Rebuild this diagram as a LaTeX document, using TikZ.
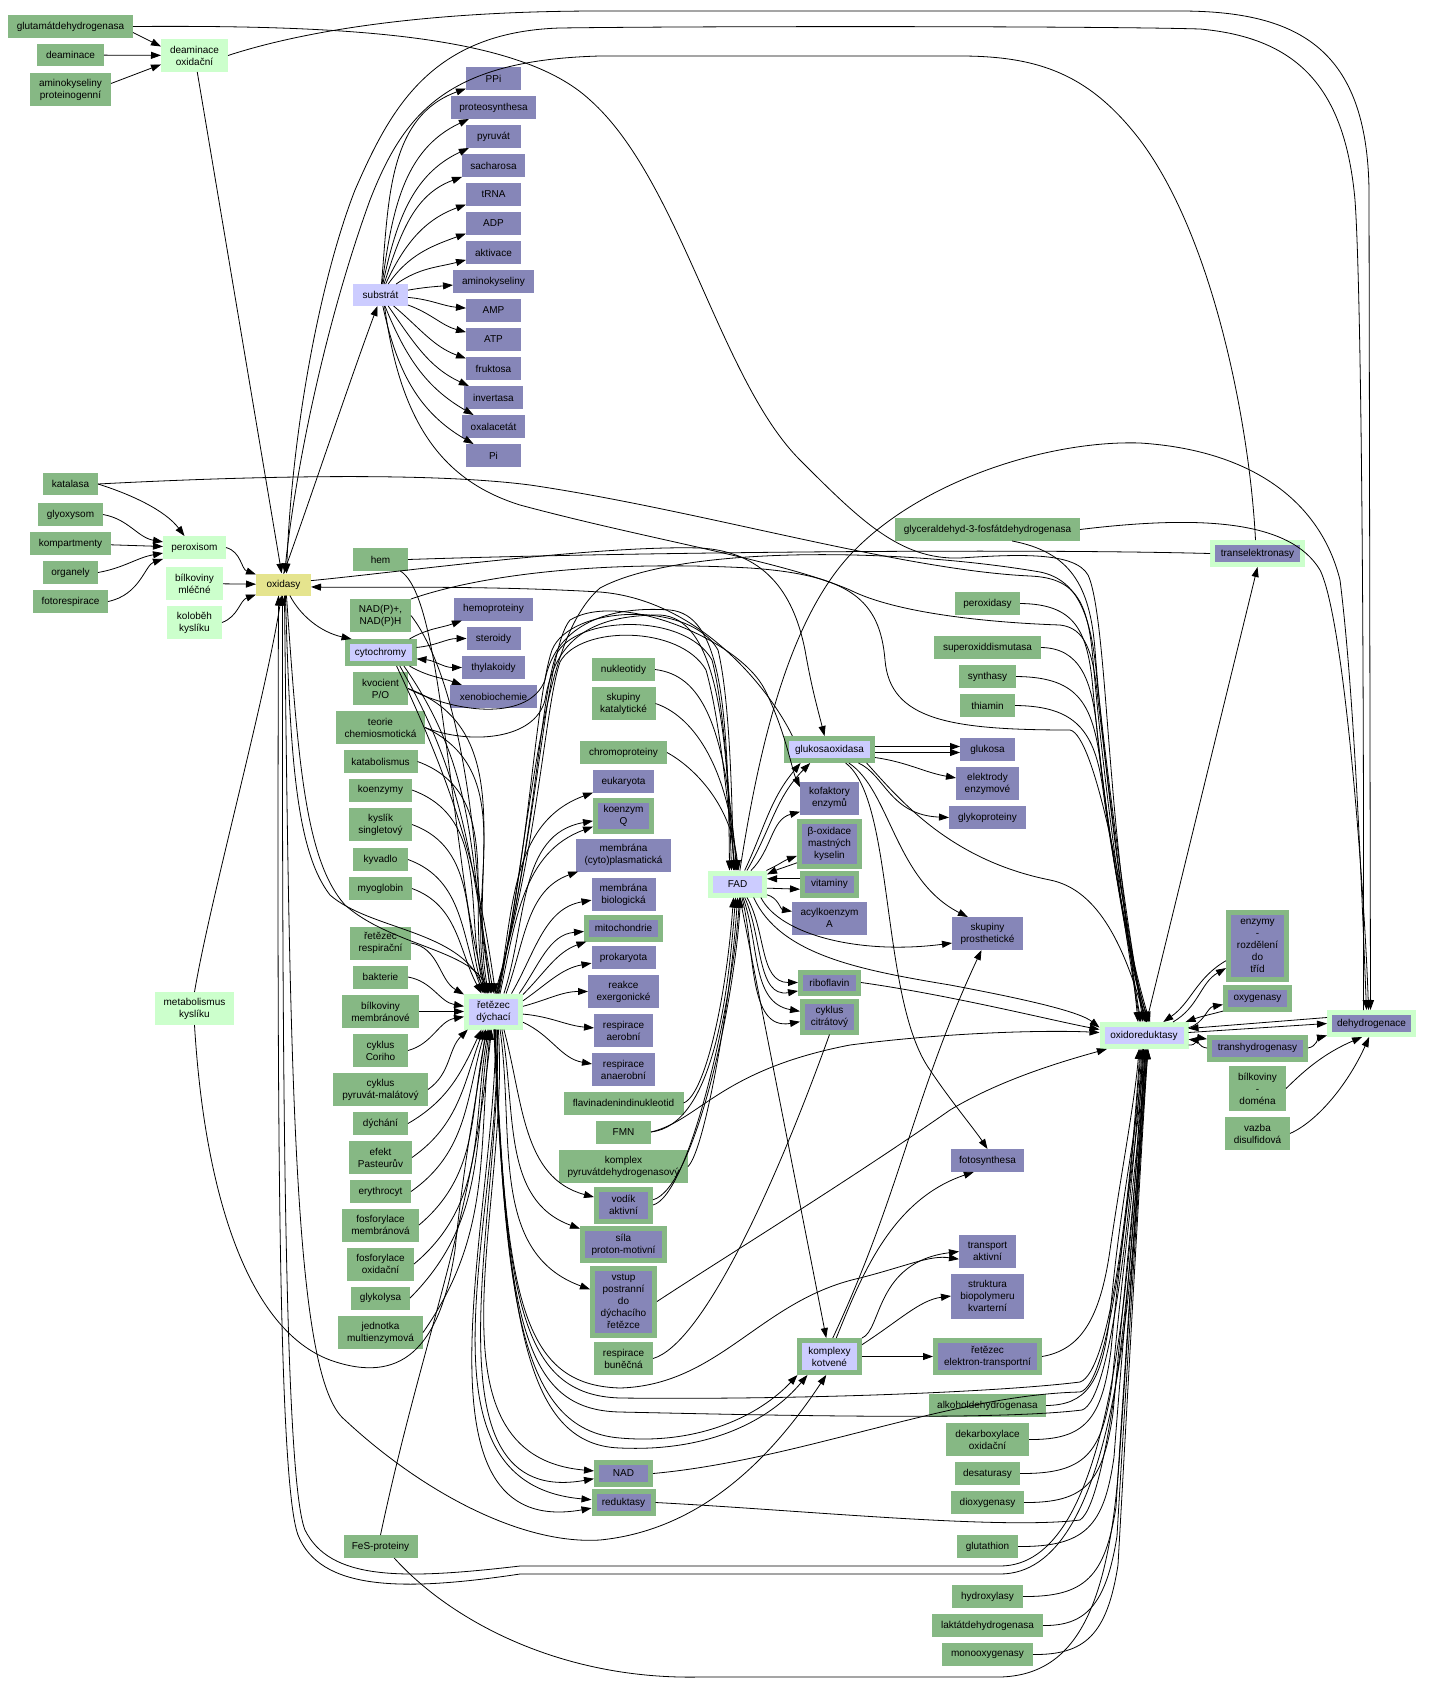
\documentclass[tikz,border=0pt]{standalone}
\usepackage{fontspec}
\setmainfont{Liberation Sans}
\usetikzlibrary{arrows.meta,calc}
\definecolor{cgreen}{RGB}{134,184,132}
\definecolor{cpurple}{RGB}{134,134,184}
\definecolor{clgreen}{RGB}{204,255,204}
\definecolor{clav}{RGB}{204,204,255}
\definecolor{cyel}{RGB}{229,228,142}
\newcommand\nd[6]{\node[#2,minimum width=#4pt,minimum height=#5pt] (#1) at (#3) {#6};}
\tikzset{
 box/.style={rectangle,inner sep=0pt,outer sep=0pt,align=center,font=\fontsize{10pt}{12pt}\selectfont},
 G/.style={box,fill=cgreen},
 P/.style={box,fill=cpurple},
 LG/.style={box,fill=clgreen},
 LV/.style={box,fill=clav},
 YE/.style={box,fill=cyel},
 PG/.style={box,fill=cpurple,draw=cgreen,line width=5pt,outer sep=2.5pt},
 PL/.style={box,fill=cpurple,draw=clgreen,line width=5pt,outer sep=2.5pt},
 VG/.style={box,fill=clav,draw=cgreen,line width=5pt,outer sep=2.5pt},
 VL/.style={box,fill=clav,draw=clgreen,line width=5pt,outer sep=2.5pt},
 ar/.style={draw,line width=0.8pt,-{Triangle[length=10pt,width=7pt]}},
 bi/.style={draw,line width=0.8pt,{Triangle[length=10pt,width=7pt]}-{Triangle[length=10pt,width=7pt]}},
 ln/.style={draw,line width=0.8pt},
}
\begin{document}
\begin{tikzpicture}[x=1pt,y=-1pt]
\useasboundingbox[fill=white] (0,0) rectangle (1455,1692);
% ---------- nodes: column 1-3
\nd{glut}{G}{70.5,26.5}{125}{23}{glutamátdehydrogenasa}
\nd{deam}{G}{70.5,55}{67}{22}{deaminace}
\nd{amprot}{G}{70.5,89.5}{81}{33}{aminokyseliny\\proteinogenní}
\nd{deamox}{LG}{194.5,55.5}{67}{33}{deaminace\\oxidační}
\nd{kat}{G}{70.5,484}{55}{22}{katalasa}
\nd{glyox}{G}{70.5,514.5}{65}{23}{glyoxysom}
\nd{komp}{G}{70.5,543.5}{81}{23}{kompartmenty}
\nd{org}{G}{70.5,572.5}{55}{23}{organely}
\nd{fotor}{G}{70.5,601.5}{75}{23}{fotorespirace}
\nd{perox}{LG}{194.5,547.5}{63}{23}{peroxisom}
\nd{bmlec}{LG}{194.5,583.5}{57}{33}{bílkoviny\\mléčné}
\nd{kolob}{LG}{194.5,622.5}{55}{33}{koloběh\\kyslíku}
\nd{metab}{LG}{194.5,1008.5}{79}{33}{metabolismus\\kyslíku}
\nd{oxid}{YE}{283.5,584.5}{55}{22}{oxidasy}
% ---------- column 4
\nd{subs}{LV}{380.5,295}{55}{22}{substrát}
\nd{hem}{G}{380.5,559.5}{55}{23}{hem}
\nd{nadp}{G}{380.5,615.5}{61}{33}{NAD(P)+,\\NAD(P)H}
\nd{cyt}{VG}{380.5,652.5}{67}{22}{cytochromy}
\nd{kvoc}{G}{380.5,688.5}{55}{33}{kvocient\\P/O}
\nd{teor}{G}{380.5,727.5}{89}{33}{teorie\\chemiosmotická}
\nd{katab}{G}{380.5,761.5}{74}{23}{katabolismus}
\nd{koenz}{G}{380.5,790}{63}{23}{koenzymy}
\nd{kysl}{G}{380.5,824.5}{63}{33}{kyslík\\singletový}
\nd{kyv}{G}{380.5,859.5}{55}{23}{kyvadlo}
\nd{myo}{G}{380.5,888.5}{63}{23}{myoglobin}
\nd{retres}{G}{380.5,943}{61}{33}{řetězec\\respirační}
\nd{bakt}{G}{380.5,977}{55}{23}{bakterie}
\nd{bmem}{G}{380.5,1011.5}{77}{33}{bílkoviny\\membránové}
\nd{cori}{G}{380.5,1050.5}{55}{33}{cyklus\\Coriho}
\nd{pyrmal}{G}{380.5,1089.5}{95}{33}{cyklus\\pyruvát-malátový}
\nd{dych}{G}{380.5,1123.5}{55}{23}{dýchání}
\nd{past}{G}{380.5,1157.5}{63}{33}{efekt\\Pasteurův}
\nd{eryt}{G}{380.5,1191.5}{61}{23}{erythrocyt}
\nd{fosmem}{G}{380.5,1225}{77}{33}{fosforylace\\membránová}
\nd{fosox}{G}{380.5,1264}{67}{33}{fosforylace\\oxidační}
\nd{glyk}{G}{380.5,1298}{59}{23}{glykolysa}
\nd{jedn}{G}{380.5,1332.5}{85}{33}{jednotka\\multienzymová}
\nd{fes}{G}{380.5,1546.5}{74}{23}{FeS-proteiny}
% ---------- column 5
\nd{ppi}{P}{493.5,78.5}{55}{23}{PPi}
\nd{proteo}{P}{493.5,107.5}{85}{23}{proteosynthesa}
\nd{pyr}{P}{493.5,136.5}{55}{23}{pyruvát}
\nd{sach}{P}{493.5,165.5}{63}{23}{sacharosa}
\nd{trna}{P}{493.5,194.5}{55}{23}{tRNA}
\nd{adp}{P}{493.5,223.5}{55}{23}{ADP}
\nd{akt}{P}{493.5,252.5}{55}{23}{aktivace}
\nd{amk}{P}{493.5,281.5}{81}{23}{aminokyseliny}
\nd{amp}{P}{493.5,310.5}{55}{23}{AMP}
\nd{atp}{P}{493.5,339.5}{55}{23}{ATP}
\nd{fruk}{P}{493.5,368.5}{55}{23}{fruktosa}
\nd{inv}{P}{493.5,397.5}{59}{23}{invertasa}
\nd{oxal}{P}{493.5,426.5}{63}{23}{oxalacetát}
\nd{pi}{P}{493.5,455.5}{55}{23}{Pi}
\nd{hemop}{P}{493.5,609}{79}{23}{hemoproteiny}
\nd{ster}{P}{493.5,638.5}{54}{23}{steroidy}
\nd{thyl}{P}{493.5,667.5}{63}{23}{thylakoidy}
\nd{xeno}{P}{493.5,696.5}{87}{23}{xenobiochemie}
\nd{rd}{VL}{493.5,1011.5}{54}{31}{řetězec\\dýchací}
% ---------- column 6
\nd{nukl}{G}{623.5,669.5}{63}{23}{nukleotidy}
\nd{skkat}{G}{623.5,703.5}{64}{33}{skupiny\\katalytické}
\nd{chrom}{G}{623.5,752.5}{87}{23}{chromoproteiny}
\nd{euk}{P}{623.5,781.5}{61}{23}{eukaryota}
\nd{koq}{PG}{623.5,815.5}{56}{31}{koenzym\\Q}
\nd{mcyt}{P}{623.5,855}{95}{33}{membrána\\(cyto)plasmatická}
\nd{mbio}{P}{623.5,894.5}{64}{33}{membrána\\biologická}
\nd{mito}{PG}{623.5,928}{74}{22}{mitochondrie}
\nd{prok}{P}{623.5,957.5}{64}{23}{prokaryota}
\nd{reak}{P}{623.5,991.5}{71}{33}{reakce\\exergonické}
\nd{raer}{P}{623.5,1030.5}{59}{33}{respirace\\aerobní}
\nd{ranaer}{P}{623.5,1069.5}{63}{33}{respirace\\anaerobní}
\nd{flav}{G}{623.5,1103}{120}{23}{flavinadenindinukleotid}
\nd{fmn}{G}{623.5,1132}{55}{23}{FMN}
\nd{kpdh}{G}{623.5,1166.5}{129}{33}{komplex\\pyruvátdehydrogenasový}
\nd{vodik}{PG}{623.5,1205}{54}{32}{vodík\\aktivní}
\nd{sila}{PG}{623.5,1244.5}{82}{32}{síla\\proton-motivní}
\nd{vstup}{PG}{623.5,1301.5}{62}{67}{vstup\\postranní\\do\\dýchacího\\řetězce}
\nd{rbun}{G}{623.5,1358.5}{59}{33}{respirace\\buněčná}
\nd{nad}{PG}{623.5,1473.5}{54}{22}{NAD}
\nd{red}{PG}{623.5,1502.5}{59}{22}{reduktasy}
% ---------- column 7-8
\nd{fad}{VL}{737.5,884}{54}{22}{FAD}
\nd{gox}{VG}{829.5,749.5}{86}{22}{glukosaoxidasa}
\nd{kof}{P}{829.5,798}{59}{33}{kofaktory\\enzymů}
\nd{boxi}{PG}{829.5,844}{60}{45}{β-oxidace\\mastných\\kyselin}
\nd{vit}{PG}{829.5,884}{54}{22}{vitaminy}
\nd{acyl}{P}{829.5,918}{75}{33}{acylkoenzym\\A}
\nd{ribo}{PG}{829.5,982.5}{58}{21}{riboflavin}
\nd{ccit}{PG}{829.5,1016.5}{54}{31}{cyklus\\citrátový}
\nd{kkot}{VG}{829.5,1356.5}{60}{32}{komplexy\\kotvené}
% ---------- column 9
\nd{glyc}{G}{987.5,529.5}{185}{23}{glyceraldehyd-3-fosfátdehydrogenasa}
\nd{perd}{G}{987.5,603.5}{65}{23}{peroxidasy}
\nd{sod}{G}{987.5,647.5}{107}{23}{superoxiddismutasa}
\nd{synt}{G}{987.5,676.5}{57}{23}{synthasy}
\nd{thia}{G}{987.5,705.5}{55}{23}{thiamin}
\nd{gluk}{P}{987.5,749.5}{55}{23}{glukosa}
\nd{elek}{P}{987.5,783.5}{63}{33}{elektrody\\enzymové}
\nd{glyp}{P}{987.5,817.5}{77}{23}{glykoproteiny}
\nd{skpr}{P}{987.5,933.5}{71}{33}{skupiny\\prosthetické}
\nd{foto}{P}{987.5,1160.5}{73}{23}{fotosynthesa}
\nd{trans}{P}{987.5,1251.5}{57}{33}{transport\\aktivní}
\nd{strk}{P}{987.5,1296}{73}{45}{struktura\\biopolymeru\\kvarterní}
\nd{ret}{PG}{987.5,1356.5}{104}{32}{řetězec\\elektron-transportní}
\nd{alk}{G}{987.5,1405.5}{117}{23}{alkoholdehydrogenasa}
\nd{dek}{G}{987.5,1439.5}{83}{33}{dekarboxylace\\oxidační}
\nd{desat}{G}{987.5,1473.5}{65}{23}{desaturasy}
\nd{dioxy}{G}{987.5,1502.5}{73}{23}{dioxygenasy}
\nd{gluta}{G}{987.5,1546.5}{61}{23}{glutathion}
\nd{hydr}{G}{987.5,1596.5}{71}{23}{hydroxylasy}
\nd{lakt}{G}{987.5,1625.5}{111}{23}{laktátdehydrogenasa}
\nd{mono}{G}{987.5,1654.5}{91}{23}{monooxygenasy}
% ---------- column 10-12
\nd{oxr}{VL}{1144,1035.5}{84}{22}{oxidoreduktasy}
\nd{tel}{PL}{1257.5,553.5}{90}{22}{transelektronasy}
\nd{enz}{PG}{1257.5,946}{58}{67}{enzymy\\-\\rozdělení\\do\\tříd}
\nd{oxyg}{PG}{1257.5,998.5}{64}{22}{oxygenasy}
\nd{thyd}{PG}{1257.5,1048}{96}{22}{transhydrogenasy}
\nd{bdom}{G}{1257.5,1088.5}{57}{45}{bílkoviny\\-\\doména}
\nd{vazba}{G}{1257.5,1133.5}{65}{33}{vazba\\disulfidová}
\nd{dehy}{PL}{1371.5,1023.5}{84}{22}{dehydrogenace}

% ================= edges
% top left
\draw[ar] ([yshift=-6pt]glut.east) -- (deamox.165);
\draw[ar] (deam) -- (deamox);
\draw[ar] ([yshift=6pt]amprot.east) -- (deamox.195);
\draw[ar] (deamox) -- (oxid);
\draw[ar] (deamox.east) .. controls (300,32) and (420,11) .. (600,11) -- (1180,11) .. controls (1300,11) and (1367,50) .. (1369,190) -- ([xshift=-1pt]dehy.north);
\draw[ar] ([xshift=-8pt]dehy.north) .. controls (1364,700) and (1362,300) .. (1355,200) .. controls (1345,90) and (1300,38) .. (1200,29) .. controls (1100,26) and (700,26) .. (560,28) .. controls (430,32) and (390,110) .. (355,190) .. controls (320,280) and (292,430) .. ([xshift=3pt]oxid.north);
\draw[ar] ([xshift=-2pt]tel.north) .. controls (1250,430) and (1215,240) .. (1140,140) .. controls (1090,75) and (1040,56) .. (960,56) -- (600,56) .. controls (450,60) and (405,110) .. (370,200) .. controls (330,310) and (298,450) .. ([xshift=1pt]oxid.north);
\draw[ar] (glut.east) .. controls (350,25) and (520,35) .. (590,100) .. controls (680,180) and (720,380) .. (800,460) .. controls (860,520) and (900,560) .. (960,558) .. controls (1020,554) and (1075,552) .. (1088,575) .. controls (1100,600) and (1105,700) .. (1112,780) .. controls (1120,880) and (1132,960) .. ([xshift=-6pt]oxr.north);
% substrat fan
\foreach \t/\o/\i in {ppi/85/200,proteo/82/205,pyr/78/205,sach/72/200,trna/65/200,adp/55/200,akt/35/195,amk/10/185,amp/-5/175,atp/-20/165,fruk/-40/160,inv/-55/155,oxal/-68/150,pi/-78/150}
  \draw[ar] (subs) to[out=\o,in=\i] (\t);
\draw[ar] (subs.-70) .. controls (400,420) and (440,480) .. (520,505) .. controls (650,540) and (780,560) .. (850,590) .. controls (900,615) and (1000,623) .. (1060,625) .. controls (1085,628) and (1093,650) .. (1098,700) .. controls (1110,800) and (1130,960) .. ([xshift=-3pt]oxr.north);
% peroxisom group
\draw[ar] (kat.east) .. controls (130,494) and (165,510) .. ([xshift=-10pt]perox.north);
\draw[ar] (kat.east) .. controls (250,476) and (430,472) .. (530,485) .. controls (700,510) and (900,570) .. (1030,576) .. controls (1075,578) and (1088,600) .. (1093,660) .. controls (1105,800) and (1128,950) .. ([xshift=-4pt]oxr.north);
\draw[ar] (glyox.east) to[out=-10,in=170] (perox.170);
\draw[ar] (komp) -- (perox);
\draw[ar] (org.east) to[out=10,in=190] (perox.190);
\draw[ar] (fotor.east) .. controls (140,595) and (145,565) .. (perox.200);
\draw[ar] (perox.east) to[out=-15,in=160] (oxid.160);
\draw[ar] (bmlec) -- (oxid);
\draw[ar] (kolob.east) to[out=20,in=200] (oxid.200);
\draw[ar] (metab.north) .. controls (210,900) and (265,700) .. ([xshift=-2pt]oxid.south);
\draw[ar] (metab.south) .. controls (205,1200) and (250,1330) .. (330,1360) .. controls (400,1385) and (440,1350) .. (455,1250) .. controls (465,1150) and (480,1080) .. ([xshift=-8pt]rd.south);
% oxidasy out
\draw[ar] (oxid.north) .. controls (310,500) and (350,380) .. ([xshift=-3pt]subs.south);
\draw[ar] (oxid.-60) .. controls (300,615) and (320,632) .. (cyt.155);
\draw[ar] (oxid.-80) .. controls (290,750) and (295,850) .. (330,895) .. controls (370,930) and (460,930) .. ([xshift=-8pt]rd.north);
\draw[ar] (oxid.-75) .. controls (298,760) and (305,860) .. (345,905) .. controls (390,945) and (470,950) .. ([xshift=-4pt]rd.north);
\draw[ar] (oxid.-85) .. controls (290,1100) and (295,1380) .. (345,1420) .. controls (420,1490) and (520,1545) .. (600,1540) .. controls (700,1530) and (770,1460) .. (kkot.-100);
\draw[ar] (oxr.-95) .. controls (1130,1300) and (1110,1566) .. (1000,1566) -- (520,1566) .. controls (400,1580) and (330,1580) .. (305,1530) .. controls (285,1480) and (282,1100) .. ([xshift=-1pt]oxid.south);
\draw[ar] (oxr.-92) .. controls (1135,1300) and (1115,1574) .. (1000,1574) -- (520,1574) .. controls (400,1592) and (320,1590) .. (298,1535) .. controls (278,1480) and (277,1100) .. ([xshift=-5pt]oxid.south);
\draw[ar] (oxid.8) .. controls (400,572) and (600,545) .. (700,548) .. controls (770,552) and (795,600) .. (805,650) .. controls (812,690) and (818,710) .. ([xshift=-5pt]gox.north);
\draw[ar] (gox.160) .. controls (770,690) and (700,600) .. (600,592) .. controls (480,585) and (360,588) .. (oxid.-5);
% hem, nadp, cytochromy
\draw[ln] (hem.east) .. controls (600,553) and (1000,548) .. (tel.west);
\draw[ar] (hem.-30) .. controls (430,590) and (440,700) .. (460,850) .. controls (470,930) and (480,970) .. ([xshift=-6pt]rd.north);
\draw[ar] (nadp.east) .. controls (430,640) and (460,700) .. (475,850) .. controls (482,930) and (488,970) .. ([xshift=-3pt]rd.north);
\draw[ar] (nadp.north east) .. controls (480,575) and (600,560) .. (750,568) .. controls (850,575) and (880,600) .. (885,660) .. controls (890,720) and (950,730) .. (1070,730) .. controls (1095,735) and (1125,900) .. ([xshift=-1pt]oxr.north);
\draw[ar] (cyt.25) to[out=30,in=200] (hemop.200);
\draw[ar] (cyt.8) to[out=5,in=180] (ster.west);
\draw[bi] (cyt.-10) to[out=-5,in=180] (thyl.west);
\draw[ar] (cyt.-25) to[out=-30,in=160] (xeno.160);
\draw[ar] (cyt.-30) to[out=-55,in=100] ([xshift=-2pt]rd.north);
\draw[ar] (cyt.-35) to[out=-60,in=100] ([xshift=0pt]rd.north);
\draw[ar] (cyt.-40) to[out=-65,in=98] ([xshift=2pt]rd.north);
% column 4 -> rd (above)
\draw[ar] (kvoc.east) to[out=-20,in=100] ([xshift=-5pt]rd.north);
\draw[ar] (kvoc.east) .. controls (460,715) and (530,720) .. (545,680) .. controls (555,630) and (600,605) .. (670,610) .. controls (720,615) and (728,700) .. ([xshift=-8pt]fad.north);
\draw[ar] (teor.east) to[out=-25,in=102] ([xshift=-6pt]rd.north);
\draw[ar] (teor.east) .. controls (470,745) and (535,740) .. (545,700) .. controls (555,640) and (590,615) .. (660,615) .. controls (715,618) and (727,720) .. ([xshift=-6pt]fad.north);
\draw[ar] (katab.east) to[out=-20,in=103] ([xshift=-7pt]rd.north);
\draw[ar] (koenz.east) to[out=-20,in=105] ([xshift=-8pt]rd.north);
\draw[ar] (kysl.east) to[out=-20,in=108] ([xshift=-9pt]rd.north);
\draw[ar] (kyv.east) to[out=-20,in=112] ([xshift=-10pt]rd.north);
\draw[ar] (myo.east) to[out=-20,in=118] ([xshift=-12pt]rd.north);
\draw[ar] (retres.east) to[out=-10,in=150] (rd.150);
\draw[ar] (bakt.east) to[out=-10,in=170] (rd.170);
\draw[ar] (bmem) -- (rd);
\draw[ar] (cori.east) to[out=15,in=190] (rd.190);
\draw[ar] (pyrmal.east) to[out=35,in=225] (rd.215);
% column 4 -> rd (below)
\draw[ar] (dych.east) to[out=30,in=-115] ([xshift=-12pt]rd.south);
\draw[ar] (past.east) to[out=35,in=-110] ([xshift=-10pt]rd.south);
\draw[ar] (eryt.east) to[out=35,in=-106] ([xshift=-8pt]rd.south);
\draw[ar] (fosmem.east) to[out=40,in=-103] ([xshift=-6pt]rd.south);
\draw[ar] (fosox.east) to[out=40,in=-100] ([xshift=-5pt]rd.south);
\draw[ar] (glyk.east) to[out=45,in=-98] ([xshift=-4pt]rd.south);
\draw[ar] (jedn.east) to[out=55,in=-96] ([xshift=-3pt]rd.south);
\draw[ar] (fes.north) to[out=78,in=-96] ([xshift=-2pt]rd.south);
\draw[ar] (fes.-40) .. controls (450,1620) and (560,1680) .. (700,1677) -- (1000,1677) .. controls (1080,1675) and (1110,1600) .. (1120,1450) .. controls (1130,1300) and (1140,1150) .. ([xshift=4pt]oxr.south);
% rd -> column 6
\draw[ar] (rd.75) to[out=80,in=200] (euk.200);
\draw[ar] (rd.70) to[out=78,in=200] (koq.200);
\draw[ar] (rd.60) to[out=72,in=190] (koq.190);
\draw[ar] (rd.55) to[out=70,in=200] (mcyt.200);
\draw[ar] (rd.45) to[out=60,in=190] (mbio.190);
\draw[ar] (rd.35) to[out=55,in=185] (mito.185);
\draw[ar] (rd.30) to[out=45,in=200] (mito.200);
\draw[ar] (rd.20) to[out=35,in=190] (prok.190);
\draw[ar] (rd.10) to[out=15,in=180] (reak.west);
\draw[ar] (rd.-5) to[out=-5,in=175] (raer.175);
\draw[ar] (rd.-20) to[out=-25,in=170] (ranaer.170);
\draw[ar] (rd.-60) to[out=-75,in=165] (vodik.165);
\draw[ar] (rd.-65) to[out=-80,in=160] (sila.160);
\draw[ar] (rd.-70) to[out=-82,in=160] (vstup.160);
\draw[ar] (rd.-75) to[out=-86,in=175] (nad.175);
\draw[ar] (rd.-78) to[out=-88,in=190] (nad.190);
\draw[ar] (rd.-80) to[out=-88,in=175] (red.175);
\draw[ar] (rd.-83) to[out=-90,in=190] (red.190);
% rd -> FAD over the top
\draw[ar] (rd.78) .. controls (530,850) and (535,700) .. (552,650) .. controls (570,605) and (690,600) .. (718,650) .. controls (730,700) and (732,800) .. ([xshift=-4pt]fad.north);
\draw[ar] (rd.82) .. controls (534,850) and (540,700) .. (556,655) .. controls (575,615) and (685,612) .. (712,660) .. controls (725,710) and (729,800) .. ([xshift=-3pt]fad.north);
\draw[ar] (rd.86) .. controls (538,850) and (545,705) .. (560,662) .. controls (580,625) and (680,625) .. (706,670) .. controls (720,720) and (727,800) .. ([xshift=-2pt]fad.north);
\draw[ar] (rd.80) .. controls (540,820) and (545,650) .. (570,620) .. controls (620,590) and (740,640) .. (765,690) .. controls (785,730) and (792,770) .. (kof.160);
\draw[ar] (rd.73) .. controls (535,800) and (540,640) .. (600,588) .. controls (680,545) and (900,548) .. (1040,572) .. controls (1080,580) and (1092,620) .. (1097,680) .. controls (1110,800) and (1132,960) .. ([xshift=1pt]oxr.north);
% rd bottom bundle -> right
\draw[ar] (rd.-86) .. controls (505,1300) and (520,1430) .. (620,1438) .. controls (700,1445) and (760,1415) .. (kkot.-150);
\draw[ar] (rd.-88) .. controls (508,1310) and (522,1445) .. (620,1448) .. controls (710,1452) and (770,1420) .. (kkot.-140);
\draw[ar] (rd.-84) .. controls (505,1300) and (522,1385) .. (620,1388) .. controls (720,1385) and (760,1300) .. (860,1278) .. controls (910,1265) and (930,1255) .. (trans.195);
\draw[ar] (rd.-87) .. controls (506,1300) and (520,1395) .. (620,1398) .. controls (800,1400) and (1000,1392) .. (1080,1382) .. controls (1110,1372) and (1130,1200) .. ([xshift=-4pt]oxr.south);
\draw[ar] (rd.-89) .. controls (507,1320) and (522,1410) .. (620,1412) .. controls (800,1416) and (1000,1420) .. (1082,1410) .. controls (1112,1400) and (1132,1200) .. ([xshift=-2pt]oxr.south);
% column 6 -> FAD etc.
\draw[ar] (nukl.east) .. controls (700,675) and (725,720) .. ([xshift=-1pt]fad.north);
\draw[ar] (skkat.east) .. controls (690,715) and (727,760) .. ([xshift=0pt]fad.north);
\draw[ar] (chrom.east) .. controls (690,765) and (730,800) .. ([xshift=1pt]fad.north);
\draw[ar] (flav.east) .. controls (705,1095) and (726,1000) .. ([xshift=-4pt]fad.south);
\draw[ar] (fmn.east) .. controls (712,1125) and (728,1000) .. ([xshift=-2pt]fad.south);
\draw[ar] (kpdh.east) .. controls (705,1150) and (731,1000) .. ([xshift=0pt]fad.south);
\draw[ar] (vodik.east) .. controls (690,1195) and (733,1000) .. ([xshift=2pt]fad.south);
\draw[ar] (vodik.10) .. controls (695,1188) and (735,1000) .. ([xshift=3pt]fad.south);
\draw[ar] (fmn.east) .. controls (700,1120) and (720,1070) .. (850,1045) .. controls (950,1032) and (1050,1030) .. ([yshift=3pt]oxr.west);
\draw[ar] (vstup.east) .. controls (720,1260) and (850,1180) .. (950,1110) .. controls (1000,1080) and (1060,1062) .. (oxr.200);
\draw[ln] (rbun.east) .. controls (700,1345) and (770,1200) .. (ccit.south);
% FAD out
\draw[ar] (fad.55) to[out=60,in=225] (gox.215);
\draw[ar] (fad.62) to[out=65,in=230] (gox.205);
\draw[ar] (fad.45) to[out=45,in=195] (kof.205);
\draw[ar] (fad.25) to[out=25,in=200] (boxi.200);
\draw[ar] (boxi.210) to[out=200,in=25] (fad.18);
\draw[ar] (vit.170) -- (fad.10);
\draw[ar] (fad.-8) -- (vit.190);
\draw[ar] (fad.-20) to[out=-15,in=170] (acyl.170);
\draw[ar] (fad.-55) to[out=-60,in=180] (ribo.west);
\draw[ar] (fad.-62) to[out=-65,in=190] (ribo.195);
\draw[ar] (fad.-68) to[out=-70,in=170] (ccit.170);
\draw[ar] (fad.-72) to[out=-75,in=190] (ccit.190);
\draw[ar] (fad.-30) .. controls (780,935) and (860,955) .. (skpr.195);
\draw[ar] (fad.-40) .. controls (780,955) and (860,970) .. (950,985) .. controls (1030,1000) and (1080,1012) .. (oxr.170);
\draw[ar] (fad.-80) -- (kkot.100);
\draw[ar] (fad.80) .. controls (760,740) and (790,620) .. (850,555) .. controls (920,480) and (1050,440) .. (1140,443) .. controls (1250,450) and (1320,500) .. (1340,580) .. controls (1355,700) and (1362,900) .. ([xshift=-5pt]dehy.north);
\draw[ar] (ribo.east) .. controls (950,995) and (1050,1020) .. ([yshift=6pt]oxr.west);
% glukosaoxidasa out
\draw[ar] ([yshift=3pt]gox.east) -- ([yshift=3pt]gluk.west);
\draw[ar] ([yshift=-3pt]gox.east) -- ([yshift=-3pt]gluk.west);
\draw[ar] (gox.-10) to[out=-8,in=170] (elek.170);
\draw[ar] (gox.-25) .. controls (885,775) and (890,815) .. (glyp.west);
\draw[ar] (gox.-35) .. controls (890,790) and (895,880) .. (skpr.140);
\draw[ar] (gox.-40) .. controls (895,800) and (880,1000) .. (930,1070) .. controls (950,1100) and (975,1130) .. (foto.north);
\draw[ar] (gox.-20) .. controls (900,800) and (950,860) .. (1050,880) .. controls (1100,890) and (1125,950) .. ([xshift=2pt]oxr.north);
% komplexy kotvene out
\draw[ar] (kkot.north east) .. controls (882,1330) and (875,1262) .. (trans.west);
\draw[ar] (kkot.70) .. controls (860,1280) and (890,1200) .. (foto.220);
\draw[ar] (kkot.20) .. controls (900,1320) and (920,1300) .. (strk.west);
\draw[ar] (kkot) -- (ret);
\draw[ar] (kkot.80) to[out=65,in=-115] (skpr.-110);
\draw[ar] (ret.east) .. controls (1080,1350) and (1100,1320) .. (1110,1250) .. controls (1120,1180) and (1135,1100) .. ([xshift=-5pt]oxr.south);
\draw[ar] (nad.east) .. controls (800,1460) and (950,1395) .. (1080,1392) .. controls (1110,1385) and (1130,1200) .. ([xshift=-3pt]oxr.south);
\draw[ar] (red.east) .. controls (800,1510) and (1000,1530) .. (1080,1520) .. controls (1110,1500) and (1135,1250) .. ([xshift=1pt]oxr.south);
% right green -> oxr top
\draw[ar] (glyc.-25) .. controls (1070,552) and (1090,585) .. (1095,650) .. controls (1106,790) and (1128,955) .. ([xshift=2pt]oxr.north);
\draw[ar] (perd.east) .. controls (1075,604) and (1088,630) .. (1093,690) .. controls (1105,820) and (1128,960) .. ([xshift=3pt]oxr.north);
\draw[ar] (sod.east) .. controls (1080,648) and (1092,680) .. (1097,730) .. controls (1108,840) and (1130,960) .. ([xshift=4pt]oxr.north);
\draw[ar] (synt.east) .. controls (1075,677) and (1092,700) .. (1100,760) .. controls (1112,860) and (1132,970) .. ([xshift=5pt]oxr.north);
\draw[ar] (thia.east) .. controls (1075,706) and (1095,730) .. (1103,790) .. controls (1115,880) and (1134,970) .. ([xshift=6pt]oxr.north);
% right green -> oxr bottom
\draw[ar] (alk.east) .. controls (1085,1405) and (1102,1385) .. (1110,1315) .. controls (1122,1185) and (1138,1130) .. ([xshift=-1pt]oxr.south);
\draw[ar] (dek.east) .. controls (1085,1440) and (1102,1420) .. (1111,1350) .. controls (1123,1220) and (1138,1140) .. ([xshift=0pt]oxr.south);
\draw[ar] (desat.east) .. controls (1085,1474) and (1102,1454) .. (1112,1384) .. controls (1124,1250) and (1139,1150) .. ([xshift=1pt]oxr.south);
\draw[ar] (dioxy.east) .. controls (1085,1503) and (1103,1483) .. (1113,1413) .. controls (1125,1280) and (1139,1150) .. ([xshift=2pt]oxr.south);
\draw[ar] (gluta.east) .. controls (1085,1547) and (1104,1527) .. (1114,1457) .. controls (1126,1300) and (1140,1150) .. ([xshift=2pt]oxr.south);
\draw[ar] (hydr.east) .. controls (1085,1597) and (1105,1577) .. (1116,1507) .. controls (1127,1330) and (1140,1150) .. ([xshift=3pt]oxr.south);
\draw[ar] (lakt.east) .. controls (1085,1626) and (1106,1606) .. (1117,1536) .. controls (1128,1350) and (1141,1150) .. ([xshift=3pt]oxr.south);
\draw[ar] (mono.east) .. controls (1085,1655) and (1107,1635) .. (1118,1565) .. controls (1129,1370) and (1141,1150) .. ([xshift=4pt]oxr.south);
% oxr right side
\draw[ar] (oxr.80) -- (tel.south);
\draw[ar] (oxr.25) to[out=30,in=210] (enz.215);
\draw[ar] (enz.205) to[out=210,in=35] (oxr.35);
\draw[ar] (oxr.10) to[out=15,in=190] (oxyg.190);
\draw[ar] (oxyg.200) to[out=195,in=20] (oxr.18);
\draw[ar] (oxr.-12) to[out=-10,in=170] (thyd.170);
\draw[ar] (thyd.180) to[out=175,in=-5] (oxr.-5);
\draw[ar] ([yshift=3pt]oxr.east) -- ([yshift=0pt]dehy.west);
\draw[ar] ([yshift=6pt]dehy.west) -- ([yshift=7pt]oxr.east);
\draw[ar] (thyd.east) to[out=10,in=195] (dehy.195);
\draw[ar] (bdom.east) .. controls (1300,1075) and (1320,1055) .. (dehy.-125);
\draw[ar] (vazba.east) .. controls (1320,1120) and (1350,1080) .. (dehy.-100);
\draw[ar] (glyc.east) .. controls (1200,515) and (1290,520) .. (1320,570) .. controls (1345,620) and (1365,900) .. ([xshift=-3pt]dehy.north);
\end{tikzpicture}
\end{document}
